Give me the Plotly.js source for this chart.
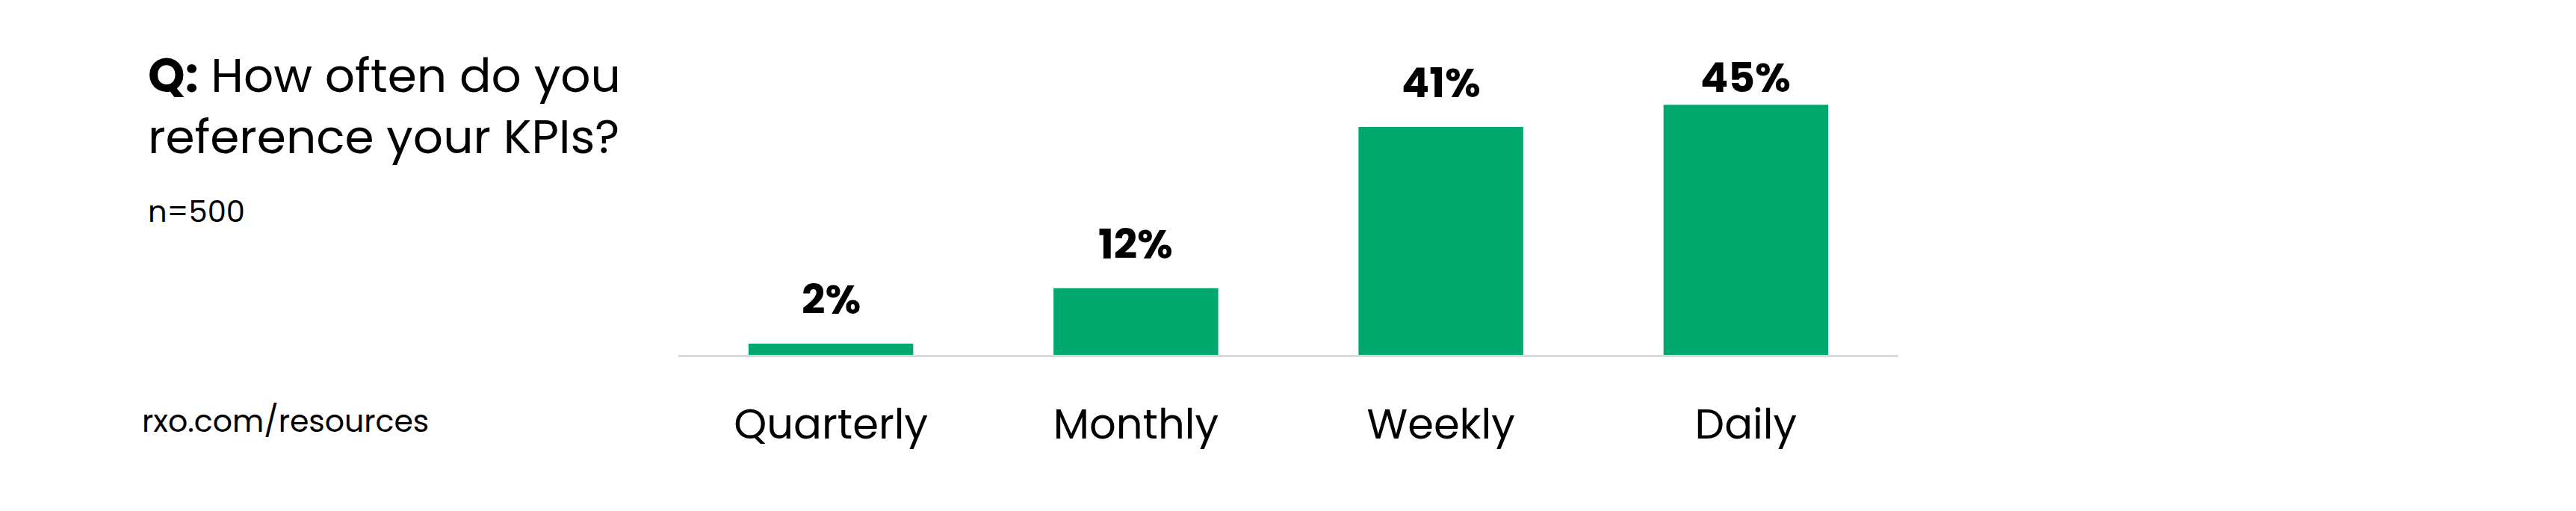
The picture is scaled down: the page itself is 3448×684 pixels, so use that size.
<!DOCTYPE html>
<html>
<head>
<meta charset="utf-8">
<script src="https://cdn.plot.ly/plotly-3.0.1.min.js"></script>
<style>
  html, body { margin: 0; padding: 0; background: #ffffff; }
  #chart { width: 3448px; height: 684px; }
</style>
</head>
<body>
<div id="chart"></div>
<script>
const categories = ["Quarterly", "Monthly", "Weekly", "Daily"];
const shares = [2, 12, 41, 45];
const questionLead = "Q:";
const questionLine1 = " How often do you";
const questionLine2 = "reference your KPIs?";
const sampleNote = "n=500";
const sourceNote = "rxo.com/resources";

const FONT = "Poppins, Inter, 'Open Sans', sans-serif";
const W = 3448, H = 684;
const plotL = 908, plotR = 2541, plotT = 103, plotB = 475;
const yMax = 50;
const pw = plotR - plotL, ph = plotB - plotT;
const px = x => (x - plotL) / pw;
const py = y => (plotB - y) / ph;

// value-label placement (pixels): baseline 40px above bar, never above the top limit
const LABEL_SIZE = 55;
const LABEL_GAP = 40;
const LABEL_MIN_BASELINE = 123;
const labelShift = v => {
  const barTop = plotB - v * ph / yMax;
  const baseline = Math.max(barTop - LABEL_GAP, LABEL_MIN_BASELINE);
  return barTop - baseline + 0.35 * LABEL_SIZE;
};

const trace = {
  type: "bar",
  x: categories,
  y: shares,
  marker: { color: "#00A86E" },
  width: 0.54,
  hoverinfo: "skip"
};

const valueLabels = categories.map((c, i) => ({
  xref: "x", yref: "y",
  x: c, y: shares[i],
  xanchor: "center", yanchor: "middle",
  yshift: labelShift(shares[i]),
  showarrow: false,
  text: "<b>" + shares[i] + "%</b>",
  font: { family: FONT, size: LABEL_SIZE, color: "#000000" }
}));

const layout = {
  width: W, height: H,
  paper_bgcolor: "#ffffff",
  plot_bgcolor: "#ffffff",
  showlegend: false,
  margin: { l: plotL, r: W - plotR, t: plotT, b: H - plotB },
  font: { family: FONT, color: "#000000" },
  xaxis: {
    type: "category",
    range: [-0.5, 3.5],
    showgrid: false,
    zeroline: false,
    showline: true,
    linecolor: "#d9d9d9",
    linewidth: 3,
    ticks: "",
    ticklabelstandoff: 42,
    tickfont: { family: FONT, size: 56, color: "#000000" }
  },
  yaxis: {
    range: [0, yMax],
    showgrid: false,
    zeroline: false,
    showline: false,
    showticklabels: false,
    ticks: ""
  },
  annotations: [
    {
      xref: "paper", yref: "paper",
      x: px(196), y: py(142),
      xanchor: "left", yanchor: "middle",
      align: "left",
      showarrow: false,
      text: "<b>" + questionLead + "</b>" + questionLine1 + "<br>" + questionLine2,
      font: { family: FONT, size: 63, color: "#000000" }
    },
    {
      xref: "paper", yref: "paper",
      x: px(196), y: py(283),
      xanchor: "left", yanchor: "middle",
      showarrow: false,
      text: sampleNote,
      font: { family: FONT, size: 40, color: "#000000" }
    },
    {
      xref: "paper", yref: "paper",
      x: px(188), y: py(563),
      xanchor: "left", yanchor: "middle",
      showarrow: false,
      text: sourceNote,
      font: { family: FONT, size: 41, color: "#000000" }
    }
  ].concat(valueLabels)
};

Plotly.newPlot("chart", [trace], layout, { displayModeBar: false, staticPlot: true });
</script>
</body>
</html>
